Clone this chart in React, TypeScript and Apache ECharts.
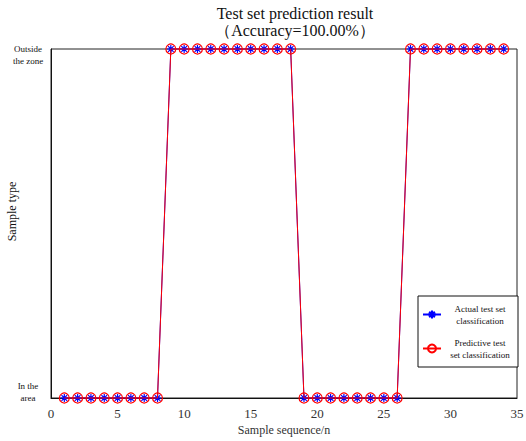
import React, { useEffect, useRef } from "react";
import * as echarts from "echarts";

const sampleIndex = [1, 2, 3, 4, 5, 6, 7, 8, 9, 10, 11, 12, 13, 14, 15, 16, 17, 18, 19, 20, 21, 22, 23, 24, 25, 26, 27, 28, 29, 30, 31, 32, 33, 34];
const actualClass = [0, 0, 0, 0, 0, 0, 0, 0, 1, 1, 1, 1, 1, 1, 1, 1, 1, 1, 0, 0, 0, 0, 0, 0, 0, 0, 1, 1, 1, 1, 1, 1, 1, 1];
const predictedClass = [0, 0, 0, 0, 0, 0, 0, 0, 1, 1, 1, 1, 1, 1, 1, 1, 1, 1, 0, 0, 0, 0, 0, 0, 0, 0, 1, 1, 1, 1, 1, 1, 1, 1];
const classLabels = ["In the\narea\n", "\nOutside\nthe zone"];
const legendNames = ["Actual test set classification", "Predictive test set classification"];
const legendLines: Record<string, string> = {
  "Actual test set classification": "{a|Actual test set}\n{a|classification}",
  "Predictive test set classification": "{a|Predictive test}\n{a|set classification}",
};

const FONT = "Liberation Serif";
const asterisk = "path://M5,0L5,10M0,5L10,5M1.5,1.5L8.5,8.5M1.5,8.5L8.5,1.5";

export default function App() {
  const ref = useRef<HTMLDivElement>(null);
  useEffect(() => {
    const chart = echarts.init(ref.current!, null, { renderer: "svg" });
    chart.setOption({
      animation: false,
      backgroundColor: "#fff",
      textStyle: { fontFamily: FONT },
      title: {
        text: "Test set prediction result\n（Accuracy=100.00%）",
        left: 290,
        textAlign: "center",
        top: 0,
        textStyle: { fontFamily: FONT, fontSize: 16, fontWeight: "normal", color: "#111", lineHeight: 17 },
      },
      grid: {
        left: 51, right: 9, top: 49, bottom: 43,
        outerBoundsMode: "none", containLabel: false,
        show: true, borderColor: "#222", borderWidth: 1, backgroundColor: "transparent",
      },
      legend: {
        orient: "vertical",
        left: 418,
        top: 296,
        width: 94,
        padding: [8, 4, 8, 4],
        itemGap: 13,
        itemWidth: 18,
        itemHeight: 10,
        backgroundColor: "#fff",
        borderColor: "#111",
        borderWidth: 1,
        borderRadius: 0,
        data: legendNames,
        formatter: (n: string) => legendLines[n],
        textStyle: {
          fontFamily: FONT,
          fontSize: 9,
          color: "#111",
          rich: { a: { fontFamily: FONT, fontSize: 9, width: 68, align: "center", lineHeight: 12, color: "#111" } },
        },
      },
      xAxis: {
        type: "value",
        min: 0,
        max: 35,
        interval: 5,
        name: "Sample sequence/n",
        nameLocation: "middle",
        nameGap: 26,
        nameMoveOverlap: false,
        nameTextStyle: { fontFamily: FONT, fontSize: 12, color: "#333" },
        axisLine: { lineStyle: { color: "#111" } },
        axisTick: { show: false },
        splitLine: { show: false },
        axisLabel: { fontFamily: FONT, fontSize: 13, color: "#333", margin: 9 },
      },
      yAxis: {
        type: "value",
        min: 0,
        max: 1,
        interval: 1,
        name: "Sample type",
        nameLocation: "middle",
        nameGap: 33,
        nameMoveOverlap: false,
        nameTextStyle: { fontFamily: FONT, fontSize: 12, color: "#111", padding: [0, 0, 0, 24] },
        axisLine: { lineStyle: { color: "#111" } },
        axisTick: { show: false },
        splitLine: { show: false },
        axisLabel: {
          fontFamily: FONT,
          fontSize: 9,
          lineHeight: 12,
          color: "#111",
          align: "center",
          margin: 23,
          formatter: (v: number) => classLabels[v] ?? "",
        },
      },
      series: [
        {
          name: legendNames[0],
          type: "line",
          data: sampleIndex.map((x, i) => [x, actualClass[i]]),
          symbol: asterisk,
          symbolSize: 8,
          clip: false,
          lineStyle: { color: "#0000ff", width: 1 },
          itemStyle: { color: "transparent", borderColor: "#0000ff", borderWidth: 1.2 },
          z: 2,
        },
        {
          name: legendNames[1],
          type: "line",
          data: sampleIndex.map((x, i) => [x, predictedClass[i]]),
          symbol: "circle",
          symbolSize: 10,
          clip: false,
          lineStyle: { color: "#ff0000", width: 1 },
          itemStyle: { color: "transparent", borderColor: "#ff0000", borderWidth: 1.2 },
          z: 3,
        },
      ],
    });
    return () => chart.dispose();
  }, []);
  return <div ref={ref} style={{ width: 526, height: 441, position: "absolute", left: 0, top: 0 }} />;
}
